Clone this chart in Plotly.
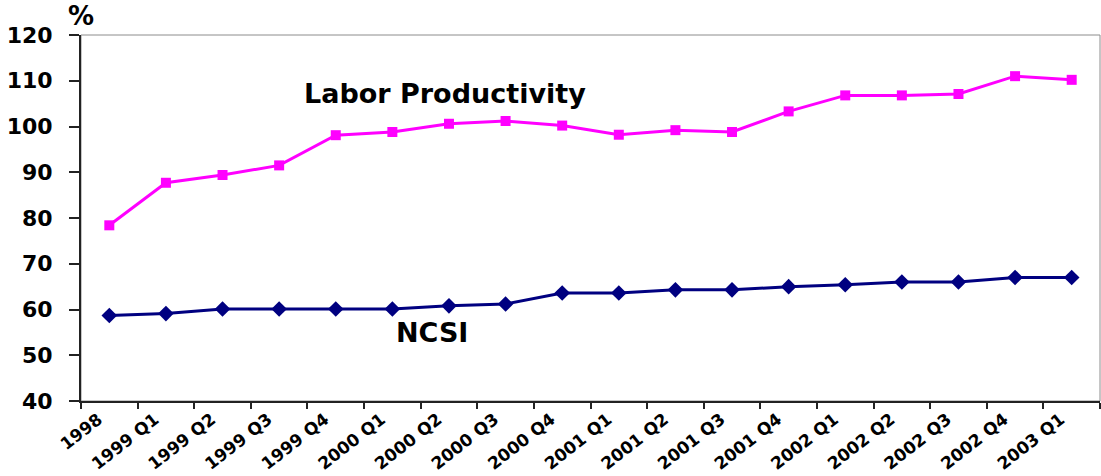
import plotly.graph_objects as go

# Quarterly periods on the category axis
periods = ["1998", "1999 Q1", "1999 Q2", "1999 Q3", "1999 Q4",
           "2000 Q1", "2000 Q2", "2000 Q3", "2000 Q4",
           "2001 Q1", "2001 Q2", "2001 Q3", "2001 Q4",
           "2002 Q1", "2002 Q2", "2002 Q3", "2002 Q4", "2003 Q1"]

labor_productivity = [78.4, 87.7, 89.4, 91.5, 98.1, 98.8, 100.6, 101.2, 100.2,
                      98.2, 99.2, 98.8, 103.3, 106.8, 106.8, 107.1, 111.0, 110.2]

ncsi = [58.7, 59.1, 60.1, 60.1, 60.1, 60.1, 60.8, 61.2, 63.6,
        63.6, 64.3, 64.3, 65.0, 65.4, 66.0, 66.0, 67.0, 67.0]

y_ticks = [40, 50, 60, 70, 80, 90, 100, 110, 120]

FONT = "DejaVu Sans"

fig = go.Figure()

fig.add_trace(go.Scatter(
    x=periods, y=labor_productivity, mode="lines+markers",
    name="Labor Productivity",
    line=dict(color="#FF00FF", width=3),
    marker=dict(symbol="square", size=10, color="#FF00FF"),
))

fig.add_trace(go.Scatter(
    x=periods, y=ncsi, mode="lines+markers",
    name="NCSI",
    line=dict(color="#000080", width=3),
    marker=dict(symbol="diamond", size=12, color="#000080"),
))

# Thin grey frame around the plotting area
fig.add_shape(type="rect", xref="paper", yref="paper", x0=0, y0=0, x1=1, y1=1,
              line=dict(color="#8c8c8c", width=1), layer="below")

# Series labels placed beside the lines
fig.add_annotation(x=5.93, y=107.3, text="<b>Labor Productivity</b>", showarrow=False,
                   font=dict(family=FONT, size=27, color="black"))
fig.add_annotation(x=5.7, y=54.9, text="<b>NCSI</b>", showarrow=False,
                   font=dict(family=FONT, size=27, color="black"))
# Unit label above the value axis
fig.add_annotation(x=0.0, y=1.0, xref="paper", yref="paper", yanchor="bottom",
                   xanchor="center", yshift=2, text="<b>%</b>", showarrow=False,
                   font=dict(family=FONT, size=26, color="black"))

fig.update_layout(
    width=1101, height=476,
    margin=dict(l=81, r=1, t=35, b=75),
    paper_bgcolor="white", plot_bgcolor="white",
    showlegend=False,
    font=dict(family=FONT, color="black"),
)

fig.update_xaxes(
    type="category", range=[-0.5, len(periods) - 0.5], automargin=False,
    tickson="boundaries", ticks="outside", ticklen=6, tickwidth=2, tickcolor="#222",
    showline=True, linecolor="#222", linewidth=2,
    showgrid=False, zeroline=False,
    tickangle=-38, ticklabelshift=-11, ticklabelstandoff=0,
    tickfont=dict(family=FONT, size=17, color="black", weight="bold"),
)

fig.update_yaxes(
    range=[40, 120], tickvals=y_ticks, automargin=False,
    ticks="outside", ticklen=10, tickwidth=2, tickcolor="#222",
    showline=True, linecolor="#222", linewidth=2,
    showgrid=False, zeroline=False, ticklabelstandoff=12,
    tickfont=dict(family=FONT, size=22, color="black", weight="bold"),
)

fig.write_html("out.html")
